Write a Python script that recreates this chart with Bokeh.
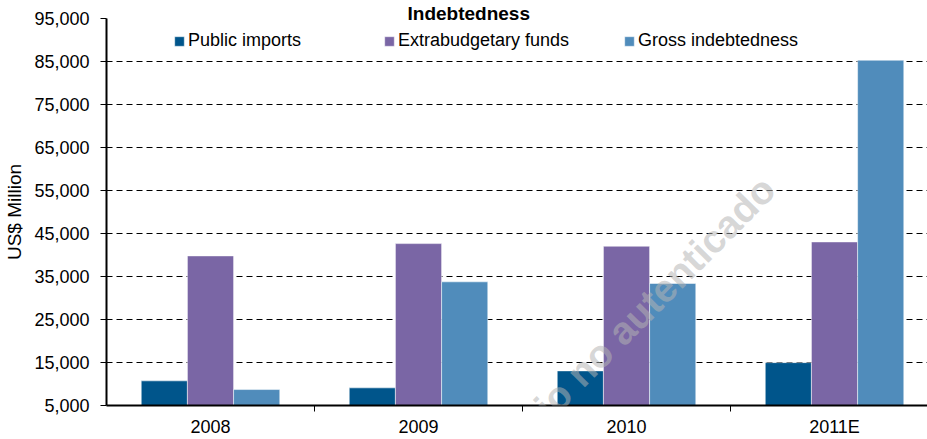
from bokeh.plotting import figure
from bokeh.models import (Range1d, FixedTicker, NumeralTickFormatter, Legend, LegendItem,
                          Label, ColumnDataSource)
from bokeh.embed import file_html
from bokeh.resources import INLINE

# ---- data ----
categories = ["2008", "2009", "2010", "2011E"]
public_imports = [10730, 9100, 13050, 14970]
extrabudgetary_funds = [39790, 42650, 42040, 43040]
gross_indebtedness = [8710, 33760, 33380, 85300]
series_names = ["Public imports", "Extrabudgetary funds", "Gross indebtedness"]
series_colors = ["#00558B", "#7A66A5", "#508CBB"]
y_ticks = [5000, 15000, 25000, 35000, 45000, 55000, 65000, 75000, 85000, 95000]
title_text = "Indebtedness"
y_label = "US$ Million"
watermark_text = "Usuario no autenticado"

FONT = "Liberation Sans"
n = len(categories)
centers = [i + 0.5 for i in range(n)]
bw = 0.222

p = figure(width=927, height=439, output_backend="svg", toolbar_location=None,
           x_range=Range1d(0, 3.947), y_range=Range1d(5000, 95000),
           min_border_left=106, min_border_right=0, min_border_top=18, min_border_bottom=33)
p.outline_line_color = None
p.background_fill_color = "white"
p.xgrid.visible = False
p.ygrid.ticker = FixedTicker(ticks=y_ticks[1:])
p.ygrid.grid_line_color = "black"
p.ygrid.grid_line_dash = "6 4"
p.ygrid.grid_line_width = 1.2

# title at the very top
p.title.text = title_text
p.title.text_font = FONT
p.title.text_font_style = "bold"
p.title.text_font_size = "19px"
p.title.text_color = "black"
p.title.align = "left"
p.title.offset = 301
p.title.vertical_align = "top"
p.title.standoff = -14

src = ColumnDataSource(dict(
    x0=[c - bw for c in centers], x1=centers, x2=[c + bw for c in centers],
    a=public_imports, b=extrabudgetary_funds, c=gross_indebtedness))

renderers = []
for xs, ys, col in zip(["x0", "x1", "x2"], ["a", "b", "c"], series_colors):
    r = p.vbar(x=xs, top=ys, bottom=5000, width=bw, source=src, fill_color=col,
               line_color="white", line_alpha=0.5, line_width=1)
    renderers.append(r)

# semi-transparent watermark drawn over everything
wm = Label(x=2.45, y=21000, text=watermark_text, angle=0.79, text_align="center",
           text_baseline="middle", text_font=FONT, text_font_style="bold",
           text_font_size="39px", text_color="#b4b4b4", text_alpha=0.55)
p.add_layout(wm)

# legends placed individually
legend_x = [67, 277, 517]
for name, r, lx in zip(series_names, renderers, legend_x):
    lg = Legend(items=[LegendItem(label=name, renderers=[r])], location=(lx, 354),
                orientation="horizontal", padding=0, margin=0, glyph_width=12, glyph_height=12,
                label_height=20, label_standoff=3, label_text_font=FONT,
                label_text_font_size="18px", label_text_color="black",
                background_fill_alpha=0, border_line_alpha=0)
    p.add_layout(lg, "center")

# y axis
p.yaxis.ticker = FixedTicker(ticks=y_ticks)
p.yaxis.formatter = NumeralTickFormatter(format="0,0")
p.yaxis.axis_label = y_label
p.yaxis.axis_label_text_font = FONT
p.yaxis.axis_label_text_font_size = "19px"
p.yaxis.axis_label_text_font_style = "normal"
p.yaxis.axis_label_text_color = "black"
p.yaxis.axis_label_standoff = 6
p.yaxis.major_label_text_font = FONT
p.yaxis.major_label_text_font_size = "18px"
p.yaxis.major_label_text_color = "black"
p.yaxis.major_label_standoff = 11
p.yaxis.major_tick_out = 6
p.yaxis.major_tick_in = 0
p.yaxis.minor_tick_line_color = None
p.yaxis.axis_line_width = 2
p.yaxis.axis_line_color = "black"
p.yaxis.major_tick_line_color = "black"

# x axis: labels at group centres, ticks at group boundaries
p.xaxis.ticker = FixedTicker(ticks=centers, minor_ticks=[i for i in range(1, n)])
p.xaxis.major_label_overrides = {c: lab for c, lab in zip(centers, categories)}
p.xaxis.major_tick_out = 0
p.xaxis.major_tick_in = 0
p.xaxis.minor_tick_out = 6
p.xaxis.minor_tick_in = 0
p.xaxis.minor_tick_line_color = "black"
p.xaxis.minor_tick_line_width = 1
p.xaxis.major_label_text_font = FONT
p.xaxis.major_label_text_font_size = "18px"
p.xaxis.major_label_text_color = "black"
p.xaxis.major_label_standoff = 5
p.xaxis.axis_line_width = 2
p.xaxis.axis_line_color = "black"

open("out.html", "w").write(file_html(p, INLINE))
